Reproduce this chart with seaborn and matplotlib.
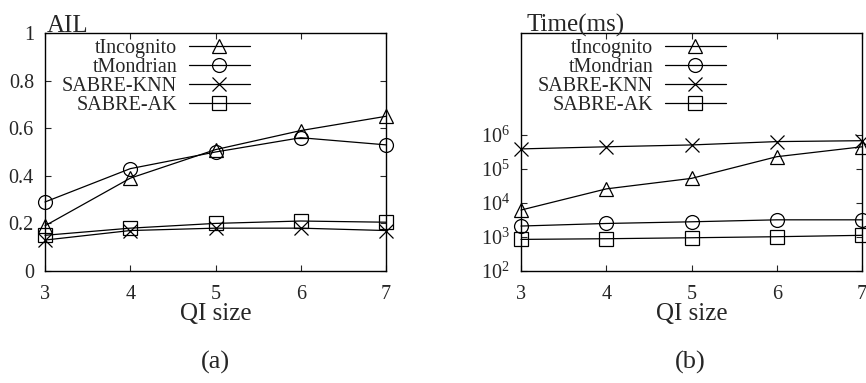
import matplotlib
matplotlib.use("Agg")
import matplotlib.pyplot as plt
import matplotlib.ticker as mticker
import seaborn as sns
import pandas as pd

qi_size = [3, 4, 5, 6, 7]
series_names = ["tIncognito", "tMondrian", "SABRE-KNN", "SABRE-AK"]
markers = {"tIncognito": "^", "tMondrian": "o", "SABRE-KNN": "x", "SABRE-AK": "s"}

ail_tincognito = [0.19, 0.39, 0.51, 0.59, 0.65]
ail_tmondrian = [0.29, 0.43, 0.50, 0.56, 0.53]
ail_sabre_knn = [0.13, 0.17, 0.18, 0.18, 0.17]
ail_sabre_ak = [0.15, 0.18, 0.20, 0.21, 0.205]

time_tincognito = [6.2e3, 2.6e4, 5.3e4, 2.3e5, 4.5e5]
time_tmondrian = [2.1e3, 2.5e3, 2.8e3, 3.2e3, 3.2e3]
time_sabre_knn = [3.9e5, 4.5e5, 5.1e5, 6.4e5, 6.8e5]
time_sabre_ak = [850, 890, 950, 1020, 1120]

ail_yticks = [0, 0.2, 0.4, 0.6, 0.8, 1]
ail_yticklabels = ["0", "0.2", "0.4", "0.6", "0.8", "1"]
time_yticks = [1e2, 1e3, 1e4, 1e5, 1e6]
time_yticklabels = ["$10^2$", "$10^3$", "$10^4$", "$10^5$", "$10^6$"]


def long_df(vals):
    rows = []
    for name, v in zip(series_names, vals):
        for x, y in zip(qi_size, v):
            rows.append({"QI size": x, "value": y, "method": name})
    return pd.DataFrame(rows)


df_ail = long_df([ail_tincognito, ail_tmondrian, ail_sabre_knn, ail_sabre_ak])
df_time = long_df([time_tincognito, time_tmondrian, time_sabre_knn, time_sabre_ak])

sns.set_style("ticks")
plt.rcParams["font.family"] = ["Liberation Serif", "DejaVu Serif"]
plt.rcParams["mathtext.fontset"] = "custom"
plt.rcParams["mathtext.rm"] = "Liberation Serif"
plt.rcParams["mathtext.it"] = "Liberation Serif:italic"

fig = plt.figure(figsize=(8.66, 3.83), dpi=100)
W, H = 866, 383
ax1 = fig.add_axes([45 / W, (H - 271) / H, 341 / W, 238 / H])
ax2 = fig.add_axes([521 / W, (H - 271) / H, 341 / W, 238 / H])


def draw(ax, df):
    for name in series_names:
        sub = df[df["method"] == name]
        sns.lineplot(data=sub, x="QI size", y="value", ax=ax, color="black",
                     marker=markers[name], markersize=10, markerfacecolor="none",
                     markeredgecolor="black", markeredgewidth=0.9, linewidth=0.9,
                     label=name, clip_on=False)
    leg = ax.legend(loc="upper right", bbox_to_anchor=(0.60, 1 - 6 / 238),
                    frameon=False, markerfirst=False, fontsize=14.5,
                    handlelength=3.0, handletextpad=0.6, labelspacing=0.0,
                    borderaxespad=0, borderpad=0)
    for col in leg._legend_handle_box.get_children():
        col.align = "right"
    for l in leg.get_lines():
        l.set_linewidth(0.9)
    ax.set_xlim(3, 7)
    ax.set_xticks(qi_size)
    ax.set_xticklabels([str(v) for v in qi_size])
    ax.tick_params(axis="both", which="major", direction="in", length=4, width=0.8,
                   top=True, right=True, labelsize=14.5)
    ax.tick_params(axis="x", pad=10)
    ax.tick_params(axis="y", pad=8)
    ax.tick_params(axis="both", which="minor", length=0)
    for s in ax.spines.values():
        s.set_linewidth(1.0)
        s.set_color("black")
    ax.set_xlabel("QI size", fontsize=18, labelpad=-1)
    ax.set_ylabel("")


draw(ax1, df_ail)
ax1.set_ylim(0, 1)
ax1.set_yticks(ail_yticks)
ax1.set_yticklabels(ail_yticklabels)
ax1.set_title("AIL", loc="left", fontsize=18, pad=1, x=0.005)

draw(ax2, df_time)
ax2.set_yscale("log")
ax2.set_ylim(1e2, 1e9)
ax2.set_yticks(time_yticks)
ax2.set_yticklabels(time_yticklabels)
ax2.yaxis.set_minor_locator(mticker.NullLocator())
ax2.set_title("Time(ms)", loc="left", fontsize=18, pad=1, x=0.015)

fig.text(215 / W, 1 - 362 / H, "(a)", ha="center", va="center", fontsize=19)
fig.text(690 / W, 1 - 362 / H, "(b)", ha="center", va="center", fontsize=19)

fig.savefig("out.png", dpi=100)
